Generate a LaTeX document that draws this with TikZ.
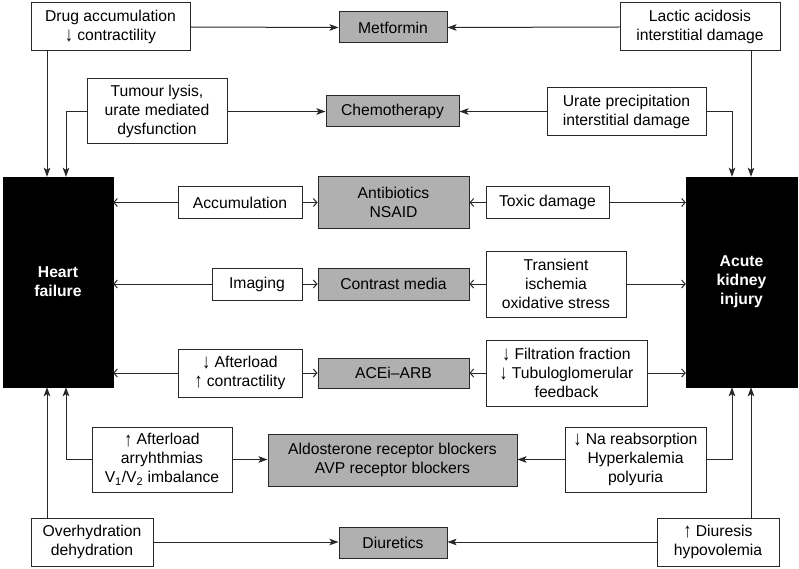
\documentclass[tikz,border=0pt]{standalone}
\usepackage{fontspec}
\setmainfont{Liberation Sans}
\usetikzlibrary{arrows.meta}
\definecolor{boxgray}{RGB}{176,176,176}
\definecolor{linegray}{RGB}{40,40,40}
\newcommand{\mydn}{\raisebox{-0.15ex}{\scalebox{1}[1.3]{↓}}}
\newcommand{\myup}{\raisebox{-0.15ex}{\scalebox{1}[1.3]{↑}}}
\begin{document}
\begin{tikzpicture}[x=1pt,y=-1pt,
  every node/.style={font=\fontsize{15.7}{19}\selectfont, align=center, inner sep=0pt},
  wbox/.style={draw=linegray, line width=1pt, fill=white},
  gbox/.style={draw=linegray, line width=1pt, fill=boxgray},
  bbox/.style={draw=black, fill=black, text=white, font=\fontsize{15.7}{19}\selectfont\bfseries},
  farr/.style={draw=linegray, line width=1pt, -{Stealth[length=9pt,width=6.5pt,inset=2pt]}},
  oarr/.style={draw=linegray, line width=1pt, -{Straight Barb[length=3.5pt,width=8pt]}},
  pline/.style={draw=linegray, line width=1pt}
]
\useasboundingbox (0,0) rectangle (799,569);
\fill[white] (0,0) rectangle (799,569);

% main blocks
\node[bbox, minimum width=110pt, minimum height=210pt] (hf) at (58,282) {Heart\\failure};
\node[bbox, minimum width=111pt, minimum height=210pt] (aki) at (741.5,282) {Acute\\kidney\\injury};

% row 1
\node[wbox, minimum width=159pt, minimum height=48pt] (drug) at (110.5,27) {Drug accumulation\\\mydn\ contractility};
\node[gbox, minimum width=108pt, minimum height=31pt] (met) at (393,27.5) {Metformin};
\node[wbox, minimum width=160pt, minimum height=48pt] (lac) at (700,27) {Lactic acidosis\\interstitial damage};

% row 2
\node[wbox, minimum width=140pt, minimum height=65pt] (tum) at (157,111.5) {Tumour lysis,\\urate mediated\\dysfunction};
\node[gbox, minimum width=133pt, minimum height=31pt] (chemo) at (392.5,111.5) {Chemotherapy};
\node[wbox, minimum width=159pt, minimum height=48pt] (urate) at (626.5,111.5) {Urate precipitation\\interstitial damage};

% row 3
\node[wbox, minimum width=124pt, minimum height=31pt] (acc) at (240,202.5) {Accumulation};
\node[gbox, minimum width=151pt, minimum height=51pt] (anti) at (393.5,202.5) {Antibiotics\\NSAID};
\node[wbox, minimum width=123pt, minimum height=31pt] (tox) at (547.5,202.5) {Toxic damage};

% row 4
\node[wbox, minimum width=90pt, minimum height=32pt] (img) at (257,284) {Imaging};
\node[gbox, minimum width=151pt, minimum height=32pt] (con) at (393.5,284) {Contrast media};
\node[wbox, minimum width=140pt, minimum height=66pt] (tra) at (556,284) {Transient\\ischemia\\oxidative stress};

% row 5
\node[wbox, minimum width=124pt, minimum height=48pt] (aft) at (240,373) {\mydn\ Afterload\\\myup\ contractility};
\node[gbox, minimum width=151pt, minimum height=30pt] (ace) at (393.5,373) {ACEi–ARB};
\node[wbox, minimum width=161pt, minimum height=66pt] (fil) at (566.5,373) {\mydn\ Filtration fraction\\\mydn\ Tubuloglomerular\\feedback};

% row 6
\node[wbox, minimum width=140pt, minimum height=65pt] (arr) at (162,459.5) {\myup\ Afterload\\arryhthmias\\V\textsubscript{1}/V\textsubscript{2} imbalance};
\node[gbox, minimum width=249pt, minimum height=52pt] (ald) at (392.5,460) {Aldosterone receptor blockers\\AVP receptor blockers};
\node[wbox, minimum width=141pt, minimum height=65pt] (na) at (635.5,459.5) {\mydn\ Na reabsorption\\Hyperkalemia\\polyuria};

% row 7
\node[wbox, minimum width=122pt, minimum height=48pt] (ovh) at (92,542) {Overhydration\\dehydration};
\node[gbox, minimum width=108pt, minimum height=31pt] (diu) at (393,542.5) {Diuretics};
\node[wbox, minimum width=122pt, minimum height=48pt] (dis) at (718,542) {\myup\ Diuresis\\hypovolemia};

% vertical guide coordinates
\coordinate (xl1) at (47,0);
\coordinate (xl2) at (66,0);
\coordinate (xr1) at (751,0);
\coordinate (xr2) at (732,0);

% row 1 connectors
\draw[farr] (drug.east) -- (met.west);
\draw[farr] (lac.west) -- (met.east);
\draw[farr] (drug.south -| xl1) -- (hf.north -| xl1);
\draw[farr] (lac.south -| xr1) -- (aki.north -| xr1);

% row 2 connectors
\draw[farr] (tum.east) -- (chemo.west);
\draw[farr] (urate.west) -- (chemo.east);
\draw[farr] (tum.west) -| (hf.north -| xl2);
\draw[farr] (urate.east) -| (aki.north -| xr2);

% row 3
\draw[oarr] (acc.west) -- (hf.east |- acc.west);
\draw[oarr] (acc.east) -- (anti.west |- acc.east);
\draw[oarr] (tox.west) -- (anti.east |- tox.west);
\draw[oarr] (tox.east) -- (aki.west |- tox.east);

% row 4
\draw[oarr] (img.west) -- (hf.east |- img.west);
\draw[oarr] (img.east) -- (con.west);
\draw[oarr] (tra.west) -- (con.east);
\draw[oarr] (tra.east) -- (aki.west |- tra.east);

% row 5
\draw[oarr] (aft.west) -- (hf.east |- aft.west);
\draw[oarr] (aft.east) -- (ace.west |- aft.east);
\draw[oarr] (fil.west) -- (ace.east |- fil.west);
\draw[oarr] (fil.east) -- (aki.west |- fil.east);

% row 6
\draw[farr] (arr.east) -- (ald.west |- arr.east);
\draw[farr] (na.west) -- (ald.east |- na.west);
\draw[farr] (arr.west) -| (hf.south -| xl2);
\draw[farr] (na.east) -| (aki.south -| xr2);

% row 7
\draw[farr] (ovh.east) -- (diu.west |- ovh.east);
\draw[farr] (dis.west) -- (diu.east |- dis.west);
\draw[farr] (ovh.north -| xl1) -- (hf.south -| xl1);
\draw[farr] (dis.north -| xr1) -- (aki.south -| xr1);
\end{tikzpicture}
\end{document}
